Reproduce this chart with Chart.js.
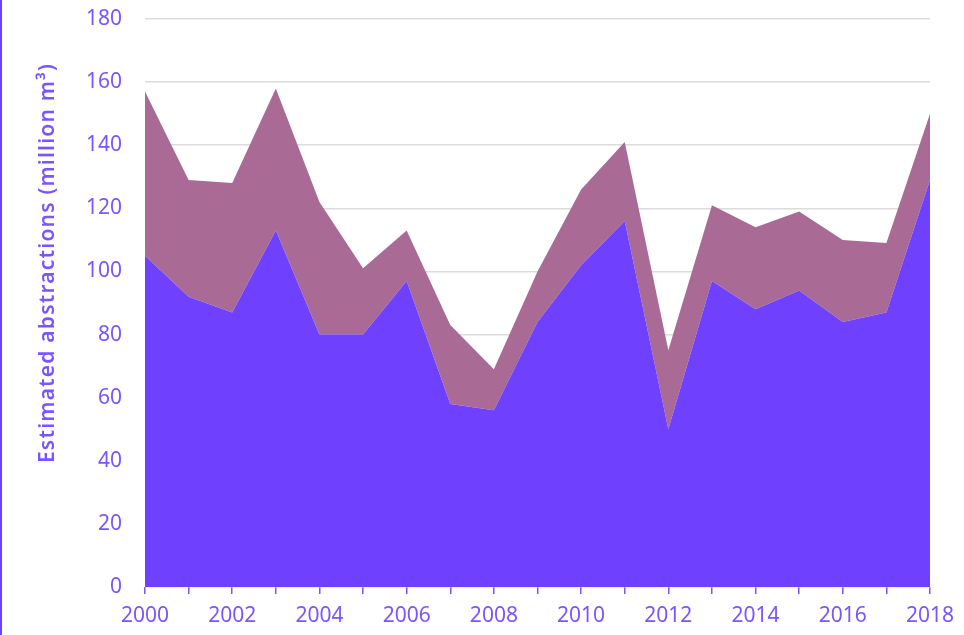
<!DOCTYPE html>
<html>
<head>
<meta charset="utf-8">
<script src="https://cdn.jsdelivr.net/npm/chart.js@4/dist/chart.umd.min.js"></script>
<style>
  html, body { margin: 0; padding: 0; background: #fff; }
  #wrap { position: relative; width: 964px; height: 635px; }
  #edge { position: absolute; left: 0; top: 0; width: 2px; height: 635px; background: #7040ff; }
</style>
</head>
<body>
<div id="wrap">
  <canvas id="chart" width="964" height="635"></canvas>
  <div id="edge"></div>
</div>
<script>
// datos
const years = ['2000', '2001', '2002', '2003', '2004', '2005', '2006', '2007', '2008', '2009',
               '2010', '2011', '2012', '2013', '2014', '2015', '2016', '2017', '2018'];
const lowerSeries = [105, 92, 87, 113, 80, 80, 97, 58, 56, 84, 102, 116, 50, 97, 88, 94, 84, 87, 129];
const upperSeries = [52, 37, 41, 45, 42, 21, 16, 25, 13, 16, 24, 25, 25, 24, 26, 25, 26, 22, 21];
const yTicks = [0, 20, 40, 60, 80, 100, 120, 140, 160, 180];
const yTitle = 'Estimated abstractions (million m³)';

const textColor = '#7a55ff';
const fontFamily = '"Noto Sans", sans-serif';

// título del eje Y dibujado a mano para ubicarlo igual que el original
const yTitlePlugin = {
    id: 'yTitle',
    afterDraw(chart) {
        const ctx = chart.ctx;
        ctx.save();
        ctx.translate(48, 263);
        ctx.rotate(-Math.PI / 2);
        ctx.font = '600 21px ' + fontFamily;
        ctx.letterSpacing = '1.2px';
        ctx.fillStyle = textColor;
        ctx.textAlign = 'center';
        ctx.textBaseline = 'middle';
        ctx.fillText(yTitle, 0, 0);
        ctx.restore();
    }
};

new Chart(document.getElementById('chart').getContext('2d'), {
    type: 'line',
    data: {
        labels: years,
        datasets: [{
            data: lowerSeries,
            backgroundColor: '#7040ff',
            borderWidth: 0,
            pointRadius: 0,
            fill: 'origin',
            tension: 0
        }, {
            data: upperSeries,
            backgroundColor: '#a96b95',
            borderWidth: 0,
            pointRadius: 0,
            fill: '-1',
            tension: 0
        }]
    },
    options: {
        responsive: false,
        animation: false,
        layout: { padding: { left: 0, right: 34, top: 19, bottom: 0 } },
        plugins: {
            legend: { display: false },
            tooltip: { enabled: false }
        },
        scales: {
            x: {
                offset: false,
                border: { display: false },
                grid: {
                    drawOnChartArea: false,
                    drawTicks: true,
                    tickLength: 7,
                    color: textColor,
                    lineWidth: 1.5
                },
                ticks: {
                    autoSkip: false,
                    maxRotation: 0,
                    padding: 9,
                    color: textColor,
                    font: { family: fontFamily, size: 21 },
                    callback: function(value, index) {
                        return index % 2 === 0 ? years[index] : '';
                    }
                },
                afterFit(scale) { scale.height = 48; }
            },
            y: {
                stacked: true,
                min: 0,
                max: 180,
                border: { display: false },
                grid: {
                    drawTicks: false,
                    color: '#dcdcdc',
                    lineWidth: 1.5
                },
                afterBuildTicks(scale) {
                    scale.ticks = yTicks.map(v => ({ value: v }));
                },
                ticks: {
                    padding: 23,
                    color: textColor,
                    font: { family: fontFamily, size: 21 }
                },
                afterFit(scale) {
                    scale.width = 145;
                    scale.paddingTop = 0;
                    scale.paddingBottom = 0;
                }
            }
        }
    },
    plugins: [yTitlePlugin]
});
</script>
</body>
</html>
